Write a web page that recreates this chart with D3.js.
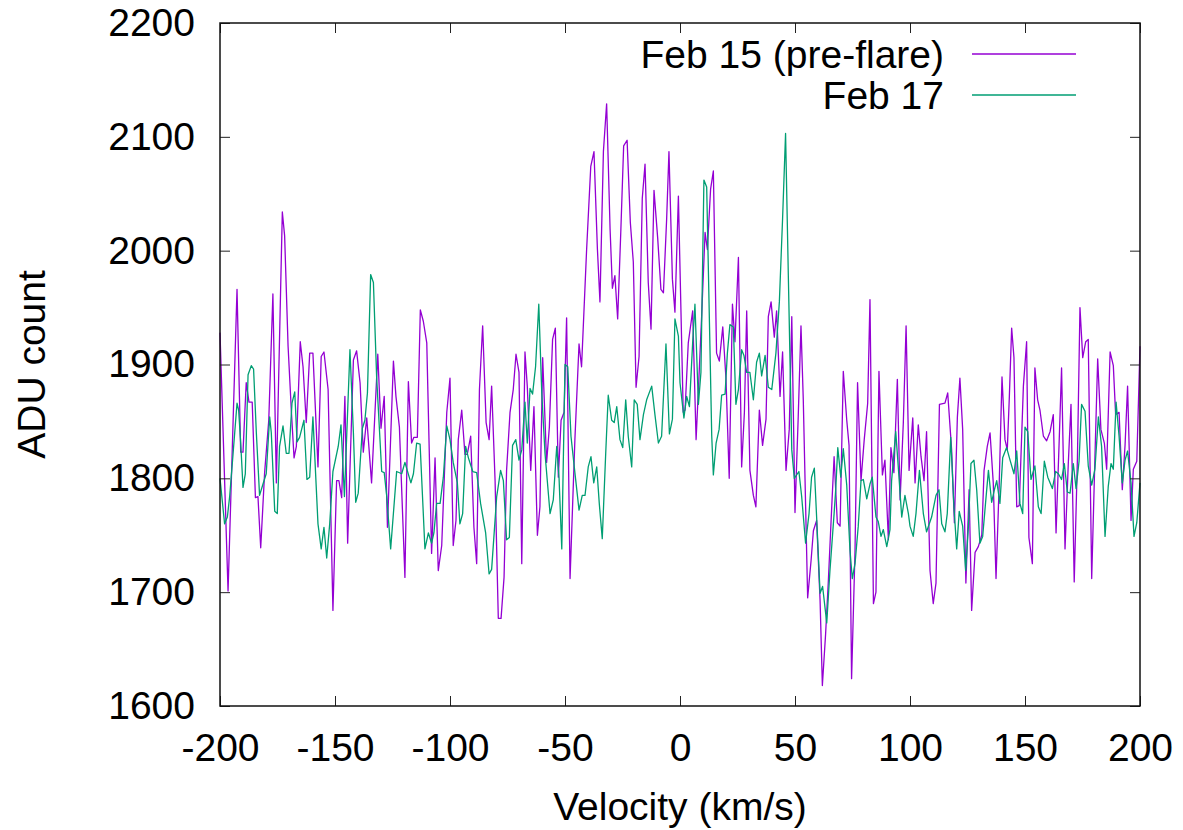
<!DOCTYPE html>
<html>
<head>
<meta charset="utf-8">
<script src="https://cdn.jsdelivr.net/npm/d3@7"></script>
<style>
  body { margin: 0; background: #fff; }
  text { font-family: 'Liberation Sans', Arial, sans-serif; fill: #000; }
</style>
</head>
<body>
<div id="chart"></div>
<script>
// Data
const seriesNames = ['Feb 15 (pre-flare)', 'Feb 17'];
const xTicks = [-200, -150, -100, -50, 0, 50, 100, 150, 200];
const yTicks = [1600, 1700, 1800, 1900, 2000, 2100, 2200];

const feb15Velocity = [
  -200, -196.5, -192.6, -191.0, -190.0, -188.6, -187.4, -186.0, -184.6, -183.5,
  -182.3, -180.6, -178.8, -177.0, -175.5, -172.9, -171.9, -170.4, -169.0, -167.8,
  -166.8, -165.1, -163.9, -162.5, -161.0, -159.6, -157.4, -156.0, -154.8, -153.0, -150.9,
  -149.3, -148.3, -147.1, -145.7, -144.5, -142.0, -140.6, -139.1, -137.7, -136.2,
  -134.1, -131.4, -130.0, -128.6, -127.2, -124.6, -123.5, -122.0, -119.6, -118.1,
  -116.7, -115.7, -114.2, -112.9, -111.6, -110.1, -108.0, -106.5, -105.1, -103.6, -101.4,
  -100.0, -98.6, -97.4, -96.4, -94.9, -93.5, -92.5, -91.0, -89.6, -88.4,
  -87.2, -85.8, -84.3, -83.0, -81.9, -80.4, -79.0, -77.8, -76.5, -75.4,
  -73.9, -72.5, -71.3, -70.0, -68.8, -67.4, -66.4, -64.9, -63.5, -62.0,
  -60.9, -59.7, -58.0, -56.8, -55.4, -54.2, -52.9, -51.7, -50.4,
  -49.3, -47.8, -45.7, -43.9, -42.8, -40.6, -38.8, -37.4, -35.9, -34.8,
  -33.3, -31.9, -30.4, -29.4, -28.3, -27.1, -25.7, -24.5, -23.0, -21.6,
  -20.3, -19.1, -17.8, -16.4, -15.2, -13.8, -12.6, -11.3, -9.7, -8.3,
  -7.2, -5.8, -4.8, -3.3, -2.2, -0.7,
  1.4, 2.2, 3.6, 5.5, 7.0, 8.4, 9.4, 10.9, 11.9, 13.3,
  14.5, 15.9, 17.1, 18.6, 20.0, 21.4, 22.8, 23.9, 25.4, 26.8,
  28.0, 29.0, 30.4, 31.9, 33.0, 34.5, 35.9, 37.4, 38.4, 39.6,
  41.0, 42.0, 43.5, 44.6, 46.1, 47.5, 48.6, 50.0,
  51.4, 52.6, 53.6, 55.5, 57.0, 58.0, 59.4, 60.9, 61.9, 63.3,
  64.5, 65.9, 67.0, 68.4, 69.6, 71.0, 72.5, 73.5, 74.6, 76.1,
  77.2, 78.7, 80.1, 81.6, 82.6, 84.1, 85.2, 86.5, 88.0, 89.1,
  90.6, 91.7, 93.0, 94.5, 95.7, 97.1, 98.3, 99.6,
  101.2, 102.2, 103.6, 104.8, 106.1, 107.2, 108.7, 110.1, 111.3, 112.8,
  115.2, 116.4, 118.1, 119.3, 120.6, 121.7, 122.9, 124.3, 125.7, 126.8,
  128.3, 129.7, 131.2, 132.2, 133.6, 134.8, 136.2, 137.4, 138.8, 140.0,
  141.3, 142.3, 143.2, 144.2, 145.2, 146.4, 147.5, 149.3,
  150.7, 151.7, 153.2, 154.3, 155.5, 156.5, 158.0, 159.4, 160.9, 162.3,
  163.5, 164.8, 165.9, 167.4, 168.8, 170.0, 171.4, 172.8, 173.9, 175.1,
  176.4, 177.5, 179.0, 180.4, 181.6, 183.0, 184.5, 185.5, 187.0, 188.4,
  189.4, 190.9, 192.3, 193.5, 194.6, 196.1, 197.1, 198.6, 200.0
];
const feb15Counts = [
  1928, 1701, 1966, 1823, 1823, 1884, 1867, 1867, 1783, 1784,
  1739, 1805, 1851, 1962, 1796, 2034, 2013, 1916, 1860, 1818,
  1828, 1920, 1898, 1849, 1910, 1910, 1810, 1907, 1911, 1878, 1684,
  1798, 1798, 1783, 1872, 1743, 1904, 1912, 1884, 1823, 1853,
  1796, 1909, 1844, 1872, 1757, 1903, 1872, 1845, 1713, 1885,
  1831, 1836, 1836, 1948, 1938, 1919, 1734, 1818, 1719, 1741, 1858,
  1888, 1741, 1763, 1834, 1860, 1821, 1821, 1837, 1757, 1725,
  1878, 1934, 1849, 1834, 1881, 1798, 1677, 1677, 1713, 1807,
  1858, 1878, 1909, 1893, 1725, 1911, 1881, 1807, 1863, 1750,
  1775, 1906, 1814, 1845, 1922, 1932, 1801, 1851, 1858,
  1941, 1712, 1834, 1918, 1898, 2001, 2074, 2087, 2001, 1955,
  2087, 2129, 2019, 1967, 1978, 1940, 2019, 2092, 2097, 2025,
  1990, 1880, 1907, 2046, 2076, 1972, 1931, 2053, 2011, 1966,
  1963, 2028, 2087, 1975, 1946, 2048,
  1858, 1860, 1919, 1947, 1834, 1896, 1942, 2016, 2001, 2054,
  2070, 1910, 1903, 1933, 1887, 1800, 1953, 1920, 1994, 1810,
  1858, 1947, 1807, 1785, 1775, 1860, 1829, 1852, 1942, 1955,
  1924, 1947, 1872, 1911, 1807, 1843, 1942, 1770,
  1854, 1934, 1869, 1695, 1728, 1754, 1763, 1693, 1618, 1663,
  1710, 1772, 1819, 1761, 1758, 1894, 1851, 1829, 1624, 1737,
  1884, 1798, 1834, 1866, 1957, 1690, 1700, 1894, 1803, 1816,
  1746, 1827, 1805, 1887, 1781, 1849, 1934, 1807,
  1853, 1796, 1847, 1819, 1798, 1841, 1719, 1690, 1708, 1865,
  1866, 1875, 1825, 1761, 1854, 1888, 1843, 1708, 1790, 1684,
  1735, 1740, 1750, 1807, 1828, 1840, 1796, 1712, 1796, 1889,
  1834, 1825, 1872, 1932, 1906, 1775, 1776, 1881,
  1920, 1748, 1725, 1897, 1869, 1860, 1837, 1833, 1841, 1856,
  1752, 1829, 1897, 1738, 1812, 1865, 1709, 1818, 1950, 1906,
  1920, 1922, 1712, 1818, 1905, 1843, 1831, 1808, 1911, 1899,
  1856, 1858, 1790, 1829, 1881, 1763, 1808, 1815, 1916
];

const feb17Velocity = [
  -200, -198.0, -196.8, -195.8, -194.3, -192.6, -191.9, -191.0, -190.0, -189.0,
  -187.8, -186.4, -185.4, -184.2, -182.8, -181.3, -179.9, -178.4, -177.7, -176.2,
  -175.1, -174.1, -172.6, -171.2, -170.0, -168.7, -167.5, -166.5, -165.4, -163.5,
  -162.2, -161.0, -159.6, -157.4, -156.0, -154.8, -153.6, -152.3, -150.9,
  -148.6, -147.4, -145.9, -143.5, -142.0, -141.0, -139.9, -138.1, -137.0, -135.9,
  -134.5, -133.3, -131.9, -129.7, -128.6, -127.5, -125.8, -123.2, -121.0, -119.6,
  -117.0, -115.9, -114.5, -113.0, -110.9, -109.4, -108.0, -107.0, -105.8, -104.3,
  -102.9, -101.4,
  -100.0, -98.6, -96.8, -95.7, -94.5, -93.2, -92.0, -90.1, -88.4, -86.7,
  -84.5, -83.0, -81.9, -79.7, -78.0, -76.8, -75.4, -74.2, -72.8, -71.4,
  -70.0, -68.8, -67.4, -66.4, -65.2, -64.1, -62.8, -61.4, -60.1, -58.7,
  -56.5, -55.1, -53.6, -52.6, -51.4,
  -50.0, -48.8, -47.4, -45.7, -43.9, -42.5, -41.3, -39.9, -38.7, -37.5,
  -36.2, -35.1, -33.8, -32.3, -31.2, -29.7, -28.6, -27.5, -26.1, -24.9,
  -23.6, -22.5, -21.0, -19.9, -18.6, -17.4, -15.9, -14.5, -12.3, -10.9,
  -9.4, -8.0, -6.1, -4.6, -3.3, -2.2, -0.7,
  0, 1.7, 2.9, 4.1, 5.5, 6.5, 8.0, 9.1, 10.4, 11.6,
  12.8, 13.8, 14.5, 15.7, 17.0, 18.1, 19.6, 20.6, 21.7, 23.2,
  24.3, 25.4, 26.8, 27.8, 29.0, 30.4, 31.9, 33.3, 34.5, 35.5,
  37.0, 38.4, 39.9, 41.7, 43.2, 44.6, 45.9, 47.1, 48.6, 49.7,
  51.7, 52.9, 54.6, 56.1, 57.2, 58.4, 59.4, 60.9, 62.0, 63.8,
  65.2, 67.0, 67.7, 68.6, 69.9, 71.0, 72.5, 73.9, 74.9, 76.1,
  77.5, 78.7, 79.7, 81.2, 82.6, 83.6, 85.2, 86.2, 87.4, 88.4,
  89.9, 91.3, 92.0, 93.8, 94.9, 96.4, 97.8, 99.3,
  100.0, 101.4, 102.6, 104.1, 105.8, 107.2, 109.4, 111.3, 112.6, 113.8,
  115.2, 116.2, 117.7, 119.1, 120.3, 121.4, 122.9, 124.2, 125.4, 126.5,
  127.8, 129.0, 130.4, 131.6, 133.0, 134.1, 135.5, 136.7, 137.7, 139.1,
  140.3, 142.0, 143.5, 145.2, 146.4, 147.8, 149.0,
  150.0, 151.2, 152.6, 154.3, 155.8, 157.0, 158.4, 159.9, 161.9, 163.3,
  164.5, 165.9, 167.1, 168.4, 169.6, 171.0, 172.2, 173.5, 174.6, 176.1,
  177.5, 179.0, 180.4, 181.9, 183.3, 184.8, 186.2, 187.4, 188.4, 189.6,
  190.9, 192.3, 193.5, 194.6, 196.1, 197.4, 198.6, 200.0
];
const feb17Counts = [
  1800, 1760, 1766, 1784, 1822, 1866, 1860, 1831, 1792, 1804,
  1891, 1899, 1896, 1840, 1785, 1795, 1804, 1854, 1840, 1771,
  1769, 1828, 1846, 1822, 1822, 1866, 1876, 1832, 1836, 1851,
  1799, 1801, 1854, 1760, 1738, 1757, 1730, 1760, 1806,
  1828, 1847, 1784, 1913, 1840, 1779, 1787, 1844, 1851, 1875,
  1979, 1972, 1889, 1806, 1805, 1784, 1738, 1806, 1804, 1814,
  1796, 1804, 1831, 1830, 1738, 1752, 1743, 1752, 1778, 1778,
  1801, 1846,
  1834, 1814, 1796, 1760, 1769, 1828, 1818, 1806, 1805, 1778,
  1752, 1716, 1720, 1784, 1807, 1798, 1746, 1748, 1829, 1834,
  1816, 1825, 1867, 1831, 1879, 1874, 1898, 1953, 1875, 1822,
  1769, 1781, 1828, 1801, 1738,
  1900, 1898, 1837, 1805, 1772, 1785, 1785, 1810, 1819, 1796,
  1810, 1778, 1747, 1822, 1873, 1851, 1849, 1863, 1834, 1827,
  1869, 1837, 1810, 1869, 1865, 1834, 1856, 1869, 1881, 1856,
  1831, 1837, 1918, 1839, 1852, 1940, 1925,
  1884, 1853, 1872, 1863, 1919, 1953, 1865, 1893, 2062, 2056,
  1937, 1837, 1803, 1831, 1843, 1873, 1874, 1910, 1935, 1933,
  1865, 1878, 1913, 1908, 1893, 1893, 1869, 1902, 1910, 1890,
  1908, 1880, 1878, 1910, 1955, 2028, 2103, 1978, 1825, 1800,
  1806, 1784, 1743, 1769, 1801, 1809, 1766, 1699, 1705, 1673,
  1719, 1769, 1790, 1827, 1801, 1826, 1794, 1737, 1712, 1725,
  1758, 1798, 1799, 1782, 1795, 1801, 1766, 1762, 1749, 1755,
  1740, 1755, 1798, 1841, 1810, 1766, 1785, 1769,
  1758, 1749, 1769, 1807, 1769, 1753, 1766, 1785, 1790, 1760,
  1753, 1769, 1836, 1775, 1738, 1771, 1758, 1719, 1758, 1813,
  1816, 1790, 1743, 1749, 1782, 1807, 1779, 1790, 1798, 1778,
  1818, 1827, 1816, 1804, 1824, 1778, 1769,
  1845, 1841, 1799, 1811, 1775, 1769, 1815, 1801, 1791, 1806,
  1804, 1799, 1813, 1788, 1787, 1813, 1791, 1815, 1865, 1859,
  1811, 1794, 1808, 1854, 1828, 1749, 1793, 1813, 1808, 1867,
  1837, 1796, 1816, 1824, 1796, 1749, 1761, 1796
];

const width = 1183;
const height = 830;
const margin = { l: 220, r: 43, t: 23, b: 124 };
const colors = ['#9400d3', '#009e73'];

const series = [
  feb15Velocity.map((v, i) => ({ v, c: feb15Counts[i] })),
  feb17Velocity.map((v, i) => ({ v, c: feb17Counts[i] }))
];

const svg = d3
  .select('#chart')
  .append('svg')
  .attr('width', width)
  .attr('height', height);

const x = d3.scaleLinear([-200, 200], [margin.l, width - margin.r]);
const y = d3.scaleLinear([1600, 2200], [height - margin.b, margin.t]);

// plain labels: ascii minus, no thousands separator
const plain = (d) => String(d);

// lines
const line = d3
  .line()
  .x((d) => x(d.v))
  .y((d) => y(d.c));

svg
  .append('g')
  .selectAll('path')
  .data(series)
  .join('path')
  .attr('fill', 'none')
  .attr('stroke', (d, i) => colors[i])
  .attr('stroke-width', 1.3)
  .attr('stroke-linejoin', 'round')
  .attr('d', line);

// axes (gnuplot style: inward ticks on all four sides)
const tickStyle = (g) => {
  g.select('.domain').remove();
  g.selectAll('.tick line').attr('stroke', '#222').attr('stroke-width', 1);
  g.selectAll('.tick text').attr('font-size', 39).attr('fill', '#000');
};

svg
  .append('g')
  .attr('transform', `translate(0, ${y(1600)})`)
  .call(d3.axisBottom(x).tickValues(xTicks).tickFormat(plain).tickSize(-10).tickPadding(27))
  .call(tickStyle);

svg
  .append('g')
  .attr('transform', `translate(0, ${y(2200)})`)
  .call(d3.axisTop(x).tickValues(xTicks).tickSize(-10).tickFormat(''))
  .call(tickStyle);

svg
  .append('g')
  .attr('transform', `translate(${x(-200)}, 0)`)
  .call(d3.axisLeft(y).tickValues(yTicks).tickFormat(plain).tickSize(-10).tickPadding(25))
  .call(tickStyle);

svg
  .append('g')
  .attr('transform', `translate(${x(200)}, 0)`)
  .call(d3.axisRight(y).tickValues(yTicks).tickSize(-10).tickFormat(''))
  .call(tickStyle);

// border
svg
  .append('rect')
  .attr('x', x(-200))
  .attr('y', y(2200))
  .attr('width', x(200) - x(-200))
  .attr('height', y(1600) - y(2200))
  .attr('fill', 'none')
  .attr('stroke', '#111')
  .attr('stroke-width', 1.5);

// legend
const legend = svg
  .append('g')
  .selectAll('g')
  .data(seriesNames)
  .join('g')
  .attr('transform', (d, i) => `translate(0, ${54 + i * 41})`);

legend
  .append('text')
  .attr('x', 944)
  .attr('dy', '0.35em')
  .attr('text-anchor', 'end')
  .attr('font-size', 39)
  .text((d) => d);

legend
  .append('line')
  .attr('x1', 972)
  .attr('x2', 1076)
  .attr('stroke', (d, i) => colors[i])
  .attr('stroke-width', 1.3);

// x-axis name
svg
  .append('text')
  .attr('x', (x(-200) + x(200)) / 2)
  .attr('y', 820)
  .attr('text-anchor', 'middle')
  .attr('font-size', 39)
  .text('Velocity (km/s)');

// y-axis name
svg
  .append('text')
  .attr('transform', `translate(45, ${(y(1600) + y(2200)) / 2}) rotate(-90)`)
  .attr('text-anchor', 'middle')
  .attr('font-size', 39)
  .text('ADU count');
</script>
</body>
</html>
